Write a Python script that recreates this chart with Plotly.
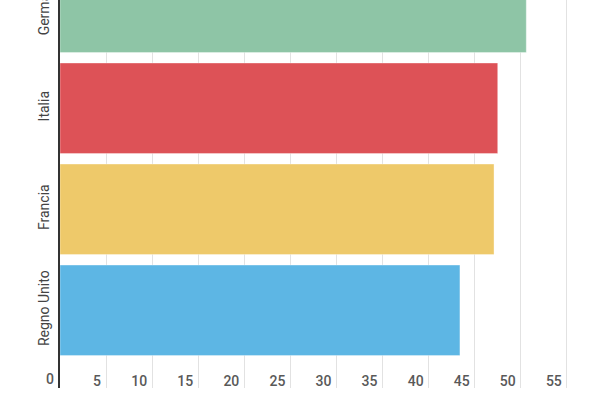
import plotly.graph_objects as go

categories = ["Regno Unito", "Francia", "Italia", "Germania"]
values = [43.4, 47.1, 47.5, 50.6]
colors = ["#5db6e4", "#eec96a", "#dd5257", "#8ec5a6"]
x_ticks = [0, 5, 10, 15, 20, 25, 30, 35, 40, 45, 50, 55]

tick_font = dict(size=14, color="#595959", family="Roboto", weight=500)

fig = go.Figure(go.Bar(
    y=categories, x=values, orientation="h",
    marker=dict(color=colors, line=dict(color="rgba(255,255,255,0.35)", width=1)),
))

fig.update_layout(
    width=600, height=400,
    margin=dict(l=60, r=0, t=0, b=12, autoexpand=False),
    paper_bgcolor="white", plot_bgcolor="white",
    bargap=0.104,
    showlegend=False,
    font=dict(family="Roboto", color="#555"),
)
fig.update_xaxes(
    range=[0, 58.6], automargin=False,
    tickvals=x_ticks[1:], ticktext=[str(v) for v in x_ticks[1:]],
    ticklabelposition="inside left", ticklabelshift=-5, ticklabelstandoff=-7,
    showgrid=True, gridcolor="#e2e2e2", gridwidth=1,
    zeroline=False, showline=False, ticks="",
    tickfont=tick_font,
)
fig.add_annotation(
    x=x_ticks[0], y=0, xref="x", yref="paper", text=str(x_ticks[0]),
    showarrow=False, xanchor="right", yanchor="middle", xshift=-4, yshift=9,
    font=tick_font,
)
fig.update_yaxes(
    type="category", automargin=False,
    range=[-0.769, 3.072],
    tickangle=-90,
    showgrid=False, zeroline=False,
    showline=True, linecolor="#333", linewidth=2,
    ticks="", ticklabelstandoff=3,
    tickfont=dict(size=14, color="#444", family="Roboto"),
)

fig.write_html("out.html", config={"displayModeBar": False},
               post_script="document.body.style.margin='0';")
